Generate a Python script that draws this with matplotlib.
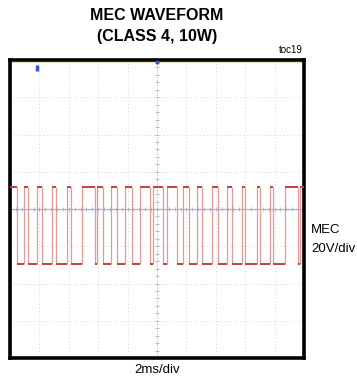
import numpy as np
import matplotlib
matplotlib.use("Agg")
import matplotlib.pyplot as plt
from matplotlib.patches import Rectangle

plt.rcParams['font.family'] = ['Liberation Sans', 'DejaVu Sans']

# Edge times of the MEC trace (ms), first segment is high
edge_times = [0.0, 0.46, 0.95, 1.20, 1.86, 2.16, 2.84, 3.13, 3.86, 4.13,
              4.88, 5.78, 5.90, 6.35, 6.87, 7.28, 7.82, 8.30, 8.81, 9.52,
              9.73, 10.41, 10.71, 11.36, 11.74, 12.18, 12.72, 13.06, 13.74,
              14.15, 14.74, 15.08, 15.76, 15.99, 16.78, 17.01, 17.69, 17.91,
              18.71, 19.61, 19.73, 20.0]
high_v = 12.0    # V relative to screen centre
low_v = -29.5

x_divs = 10
y_divs = 8
ms_per_div = 2
v_per_div = 20

fig = plt.figure(figsize=(3.57, 3.81), dpi=100)
ax = fig.add_axes([10 / 357, 23 / 381, 294 / 357, 298 / 381])

xmax = x_divs * ms_per_div
ymax = y_divs / 2 * v_per_div
ax.set_xlim(0, xmax)
ax.set_ylim(-ymax, ymax)

# graticule
for gx in np.arange(ms_per_div, xmax, ms_per_div):
    ax.axvline(gx, color='#c8c8c8', lw=0.6, ls=(0, (1, 3)), zorder=1)
for gy in np.arange(-ymax + v_per_div, ymax, v_per_div):
    ax.axhline(gy, color='#c8c8c8', lw=0.6, ls=(0, (1, 3)), zorder=1)
ax.axvline(xmax / 2, color='#b0b0b8', lw=0.6, ls=(0, (1, 2)), zorder=1)
ax.axhline(0, color='#a8b0c8', lw=0.9, zorder=1)
minor_x = np.arange(0, xmax, ms_per_div / 5)
minor_y = np.arange(-ymax, ymax, v_per_div / 5)
ax.plot(minor_x, np.zeros_like(minor_x), ls='none', marker='|', ms=2.5,
        color='#a8b0c8', mew=0.6, zorder=1)
ax.plot(np.full_like(minor_y, xmax / 2), minor_y, ls='none', marker='_', ms=2.5,
        color='#b0b0b8', mew=0.6, zorder=1)

# trace: edges dim, flat levels bright
levels = [high_v if i % 2 == 0 else low_v for i in range(len(edge_times) - 1)]
for i, lv in enumerate(levels):
    ax.hlines(lv, edge_times[i], edge_times[i + 1], color='#c0403c', lw=1.4, zorder=3)
ax.vlines(edge_times[1:-1], low_v, high_v, color='#e09a98', lw=0.9, zorder=2)

# scope markers
ax.plot([1.82], [75.5], marker='|', ms=5, mew=2.5, color='#3a55d8', ls='none',
        clip_on=False, zorder=4)
ax.plot([xmax / 2], [79], marker='o', ms=2, color='#3a55d8', ls='none',
        clip_on=False, zorder=4)

ax.add_patch(Rectangle((0.004, 0.004), 0.992, 0.99, transform=ax.transAxes,
                       fill=False, ec='#e4ddc4', lw=0.8, zorder=2))
for sp in ax.spines.values():
    sp.set_linewidth(2.6)
    sp.set_color('black')
ax.set_xticks([])
ax.set_yticks([])

fig.text(157 / 357, 1 - 16 / 381, "MEC WAVEFORM", ha='center', va='center',
         fontsize=11.5, fontweight='bold')
fig.text(157 / 357, 1 - 37 / 381, "(CLASS 4, 10W)", ha='center', va='center',
         fontsize=11.5, fontweight='bold')
fig.text(303 / 357, 1 - 50 / 381, "toc19", ha='right', va='center', fontsize=7)
fig.text(311 / 357, 1 - 230 / 381, "MEC", ha='left', va='center', fontsize=9.5)
fig.text(311 / 357, 1 - 249 / 381, "20V/div", ha='left', va='center', fontsize=9.5)
fig.text(157 / 357, 1 - 370 / 381, "2ms/div", ha='center', va='center', fontsize=9.5)

fig.savefig("out.png", dpi=100)
